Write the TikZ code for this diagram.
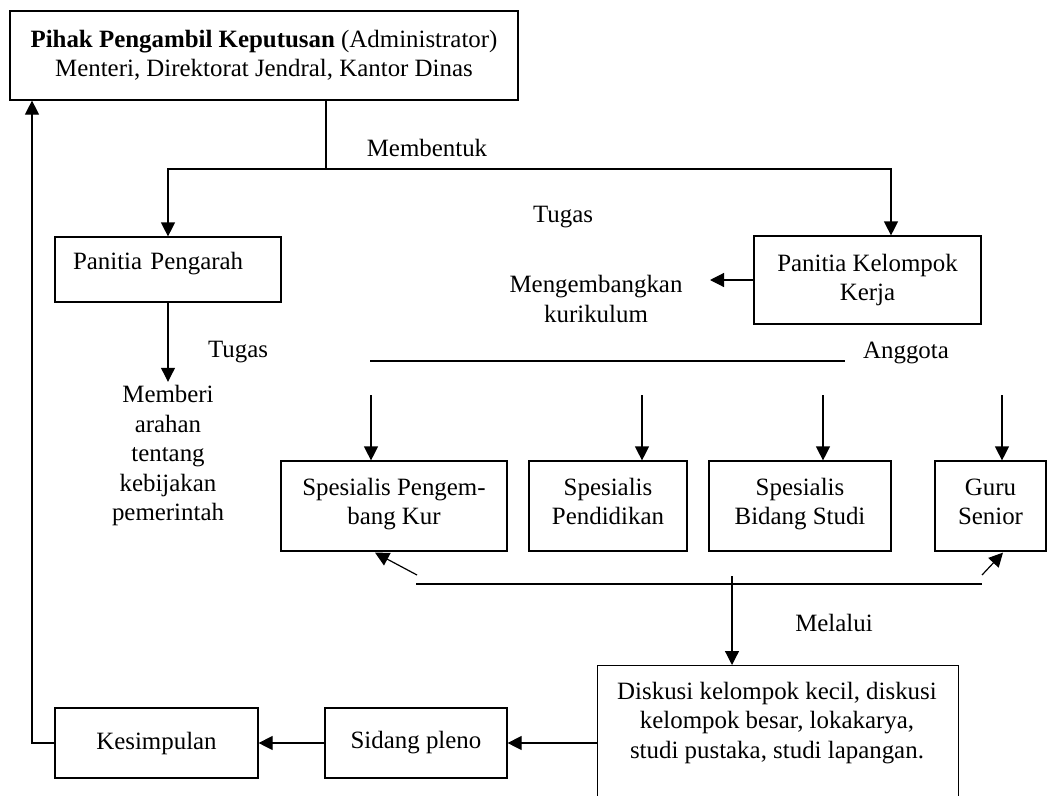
\documentclass[tikz,border=0pt]{standalone}
\usepackage{fontspec}
\setmainfont{Liberation Serif}
\usetikzlibrary{arrows.meta,calc}

\begin{document}
\begin{tikzpicture}[x=1pt, y=-1pt, line width=1.2pt,
		every node/.style={font=\fontsize{24.9}{29.5}\selectfont},
		kotak/.style={draw, align=center, inner sep=0pt},
		panah/.style={-{Triangle[length=14pt, width=14pt]}}]
		\useasboundingbox (0,0) rectangle (1048,795);
		\clip (0,0) rectangle (1048,795);

		\node[kotak, minimum width=508pt, minimum height=89pt] (pihak) at (264,55.5) {\textbf{Pihak Pengambil Keputusan} (Administrator)\\Menteri, Direktorat Jendral, Kantor Dinas};

		\node[kotak, minimum width=226pt, minimum height=65pt, text width=190pt, text depth=18pt, align=left] (pengarah) at (168,269.5) {Panitia Pengarah};
		\node[kotak, minimum width=227pt, minimum height=88pt] (kerja) at (867.5,280) {Panitia Kelompok\\Kerja};

		\coordinate (cabang) at (326,169);
		\coordinate (keKerja) at (891,169);
		\draw (pihak.south -| cabang) -- (cabang);
		\draw[panah] (cabang) -| (pengarah.north);
		\draw[panah] (cabang) -- (keKerja) -- (keKerja |- kerja.north);
		\node (membentuk) at (427,148) {Membentuk};

		\node (tugasKerja) at (563,217) {Tugas};
		\node[align=center] (kembang) at (596,299) {Mengembangkan\\kurikulum};
		\coordinate (ujungKembang) at (710,280);
		\draw[panah] (kerja.west) -- (ujungKembang);

		\node[align=center] (arahan) at (168,456) {Memberi\\arahan\\tentang\\kebijakan\\pemerintah};
		\draw[panah] (pengarah.south) -- (arahan.north);
		\node (tugasArah) at (238,352) {Tugas};

		\coordinate (anggotaKiri) at (370,361);
		\coordinate (anggotaKanan) at (845,361);
		\draw (anggotaKiri) -- (anggotaKanan);
		\node (anggota) at (906,353) {Anggota};

		\node[kotak, minimum width=226pt, minimum height=90pt] (spKur) at (394,506) {Spesialis Pengem-\\bang Kur\strut};
		\node[kotak, minimum width=158pt, minimum height=90pt] (spDidik) at (608,506) {Spesialis\\Pendidikan\strut};
		\node[kotak, minimum width=182pt, minimum height=90pt] (spStudi) at (800,506) {Spesialis\\Bidang Studi\strut};
		\node[kotak, minimum width=111pt, minimum height=90pt] (guru) at (990.5,506) {Guru\\Senior\strut};

		\foreach \x/\n in {371/spKur, 642/spDidik, 823/spStudi, 1002/guru} {
			\coordinate (atas\n) at (\x,395);
			\draw[panah] (atas\n) -- (atas\n |- \n.north);
		}

		\coordinate (bawahKiri) at (416,584);
		\coordinate (bawahKanan) at (982,584);
		\draw (bawahKiri) -- (bawahKanan);
		\coordinate (miringKiri) at (417,575);
		\coordinate (miringKanan) at (982,575);
		\draw[panah] (miringKiri) -- ($(spKur.south)+(-19,1)$);
		\draw[panah] (miringKanan) -- ($(guru.south)+(12.5,1)$);

		\node[kotak, anchor=north west, minimum width=361pt, minimum height=170pt] (diskusi) at (597,665) {};
		\node[align=center] (diskusiTeks) at (777,723) {Diskusi kelompok kecil, diskusi\\kelompok besar, lokakarya,\\studi pustaka, studi lapangan.};
		\coordinate (turun) at (732,576);
		\draw[panah] (turun) -- (turun |- diskusi.north);
		\node (melalui) at (834,623) {Melalui};

		\node[kotak, minimum width=182pt, minimum height=70pt] (sidang) at (416,743) {Sidang pleno};
		\node[kotak, minimum width=203pt, minimum height=70pt] (simpul) at (156.5,743) {Kesimpulan};
		\draw[panah] (sidang.east -| diskusi.west) -- (sidang.east);
		\draw[panah] (sidang.west) -- (simpul.east);
		\coordinate (balik) at (32,743);
		\draw[panah] (simpul.west) -- (balik) -- (balik |- pihak.south);
	\end{tikzpicture}
\end{document}
